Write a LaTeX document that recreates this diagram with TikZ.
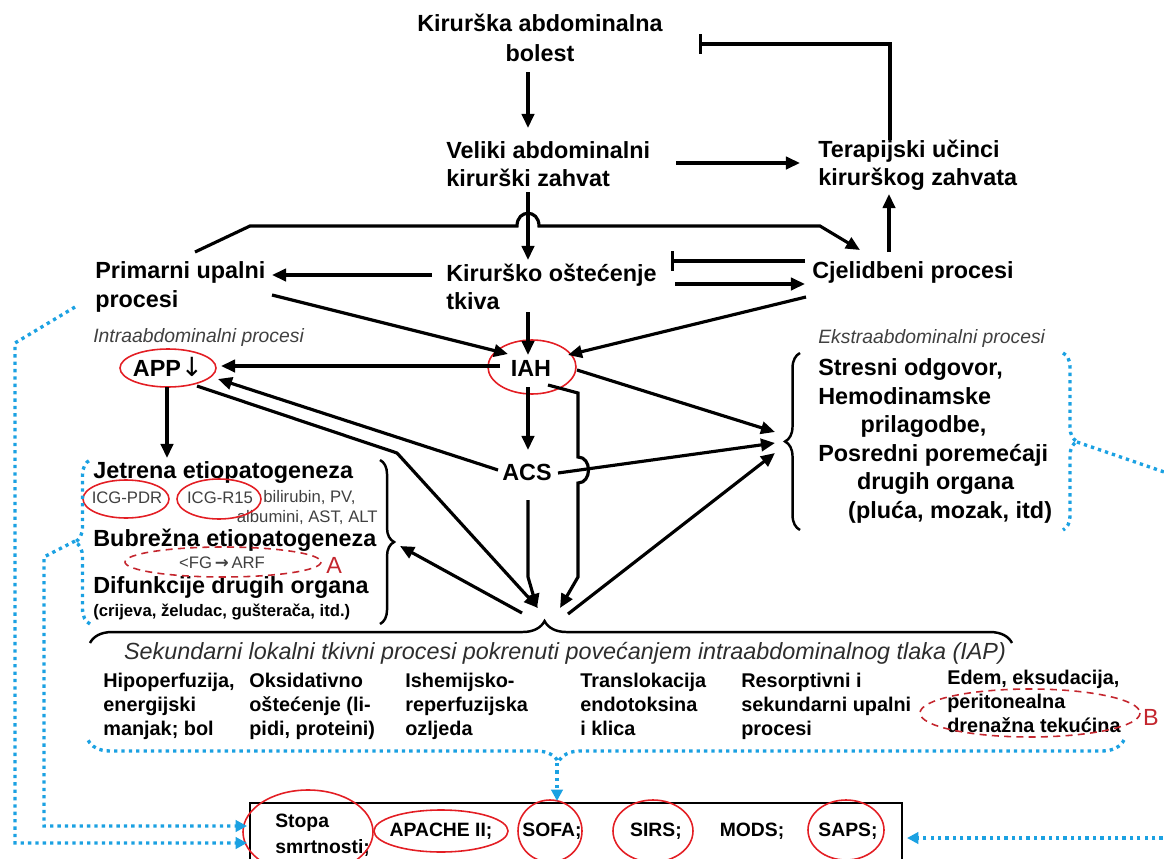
\documentclass[tikz,border=0pt]{standalone}
\usepackage{fontspec}
\setmainfont{Liberation Sans}
\newfontfamily\djv{DejaVu Sans}
\usetikzlibrary{arrows.meta,decorations.pathreplacing}
\definecolor{bluedot}{RGB}{27,161,226}
\definecolor{ellred}{RGB}{227,30,36}
\definecolor{dashred}{RGB}{196,38,46}
\definecolor{txtgray}{RGB}{64,64,64}
\newcommand\fmain{\fontsize{13.3}{16}\selectfont\bfseries}
\newcommand\fcol{\fontsize{11.3}{13.7}\selectfont\bfseries}
\newcommand\fsmall{\fontsize{9.5}{11}\selectfont}
\newcommand\fital{\fontsize{11}{13}\selectfont\itshape}
\begin{document}
\begin{tikzpicture}[x=0.02cm,y=-0.02cm,
  txt/.style={inner sep=0pt, font=\fmain, align=left},
  coltxt/.style={inner sep=0pt, font=\fcol, align=left, anchor=north west},
  small/.style={inner sep=0pt, font=\fsmall, text=txtgray},
  ital/.style={inner sep=0pt, font=\fital, text=txtgray, anchor=west},
  arr/.style={line width=1.8pt, -{Triangle[length=8pt,width=7pt]}},
  inh/.style={line width=1.8pt, -{Bar[width=11pt,line width=1.8pt]}},
  rell/.style={draw=ellred, line width=0.9pt},
  dell/.style={draw=dashred, line width=0.9pt, dash pattern=on 4pt off 3pt},
  bdot/.style={draw=bluedot, line width=1.9pt, dash pattern=on 1.9pt off 2.3pt},
  barr/.style={bdot, -{Triangle[length=6.5pt,width=6.5pt]}},
  brc/.style={decorate, decoration={brace, amplitude=#1}, line width=1.4pt},
]
\useasboundingbox (0,0) rectangle (1164,859);
\clip (0,0) rectangle (1164,859);

% ---------- top nodes ----------
\node[txt, align=center, font=\fontsize{13.3}{17}\selectfont\bfseries] (kab) at (540,38) {Kirurška abdominalna\\bolest};
\node[txt, anchor=west] (vel) at (446,164) {Veliki abdominalni\\kirurški zahvat};
\node[txt, anchor=west] (ter) at (818,165) {Terapijski učinci\\kirurškog zahvata};
\node[txt, anchor=west] (pri) at (95,287) {Primarni upalni\\procesi};
\node[txt, anchor=west] (kir) at (446,287) {Kirurško oštećenje\\tkiva};
\node[txt, anchor=west] (cje) at (812,272) {Cjelidbeni procesi};
\node[ital] (intra) at (93,337) {Intraabdominalni procesi};
\node[ital] (ekstra) at (818,338) {Ekstraabdominalni procesi};

\node[txt] (app) at (168,367) {APP{\djv\fontsize{15}{15}\selectfont\mdseries ↓}};
\node[txt] (iah) at (531,368) {IAH};
\node[txt] (acs) at (527,472) {ACS};
\draw[rell] (168,368) ellipse [x radius=48, y radius=19];
\draw[rell] (532,367) ellipse [x radius=44, y radius=27];

% ---------- right block ----------
\node[txt, anchor=west, font=\fontsize{13.3}{16.2}\selectfont\bfseries] (rb) at (818,441)
 {Stresni odgovor,\\Hemodinamske\\\hspace*{24pt}prilagodbe,\\Posredni poremećaji\\\hspace*{22pt}drugih organa\\\hspace*{17pt}(pluća, mozak, itd)};
\draw[brc=8.5pt] (800,530) -- (800,353);

% ---------- left block ----------
\node[txt, anchor=west] (jet) at (93,473) {Jetrena etiopatogeneza};
\node[small] (icg1) at (127,498) {ICG-PDR};
\node[small] (icg2) at (220,498) {ICG-R15};
\node[small, anchor=west] (bil) at (263,498) {bilirubin, PV,};
\node[small, anchor=east] (alb) at (378,518) {albumini, AST, ALT};
\node[txt, anchor=west] (bub) at (93,540) {Bubrežna etiopatogeneza};
\node[small] (fg) at (222,563) {<FG\,{\djv\bfseries →}\,ARF};
\node[inner sep=0pt, anchor=west, text=dashred, font=\fontsize{13.3}{16}\selectfont] (la) at (326,565) {A};
\node[txt, anchor=west] (dif) at (93,588) {Difunkcije drugih organa};
\node[inner sep=0pt, anchor=west, font=\fontsize{9.5}{11}\selectfont\bfseries] (crij) at (93,612) {(crijeva, želudac, gušterača, itd.)};
\draw[rell] (126,499) ellipse [x radius=43, y radius=19];
\draw[rell] (219,499) ellipse [x radius=42, y radius=20];
\draw[dell] (223,562) ellipse [x radius=98, y radius=15];
\draw[brc=8pt] (380,460) -- (380,624);
\coordinate (lbt) at (396,543);

% ---------- bottom brace and secondary processes ----------
\draw[brc=12.5pt, decoration={aspect=0.493}] (90,643) -- (1012,643);
\coordinate (conv) at (545,620);
\node[inner sep=0pt, font=\fontsize{13.3}{16}\selectfont\itshape, text=txtgray!70!black] (sek) at (565,653)
 {Sekundarni lokalni tkivni procesi pokrenuti povećanjem intraabdominalnog tlaka (IAP)};
\node[coltxt] (c1) at (103,673) {Hipoperfuzija,\\energijski\\manjak; bol};
\node[coltxt] (c2) at (249,673) {Oksidativno\\oštećenje (li-\\pidi, proteini)};
\node[coltxt] (c3) at (405,673) {Ishemijsko-\\reperfuzijska\\ozljeda};
\node[coltxt] (c4) at (580,673) {Translokacija\\endotoksina\\i klica};
\node[coltxt] (c5) at (741,673) {Resorptivni i\\sekundarni upalni\\procesi};
\node[coltxt] (c6) at (947,670) {Edem, eksudacija,\\peritonealna\\drenažna tekućina};
\draw[dell] (1030,713) ellipse [x radius=110, y radius=24];
\node[inner sep=0pt, text=dashred, font=\fontsize{13.3}{16}\selectfont] (lb) at (1151,717) {B};

% ---------- bottom box ----------
\draw[line width=1.2pt] (250,880) -- (250,803) -- (902,803) -- (902,880);
\node[inner sep=0pt, align=left, anchor=west, font=\fontsize{11}{15}\selectfont\bfseries] (stopa) at (275,835) {Stopa\\smrtnosti;};
\node[inner sep=0pt, font=\fontsize{11}{13}\selectfont\bfseries] (apache) at (441,831) {APACHE II;};
\node[inner sep=0pt, font=\fontsize{11}{13}\selectfont\bfseries] (sofa) at (552,831) {SOFA;};
\node[inner sep=0pt, font=\fontsize{11}{13}\selectfont\bfseries] (sirs) at (656,831) {SIRS;};
\node[inner sep=0pt, font=\fontsize{11}{13}\selectfont\bfseries] (mods) at (752,831) {MODS;};
\node[inner sep=0pt, font=\fontsize{11}{13}\selectfont\bfseries] (saps) at (848,831) {SAPS;};
\draw[rell] (308,832) ellipse [x radius=65, y radius=42];
\draw[rell] (441,831) ellipse [x radius=67, y radius=21];
\draw[rell] (550,831) ellipse [x radius=32, y radius=31];
\draw[rell] (653,831) ellipse [x radius=40, y radius=31];
\draw[rell] (846,830) ellipse [x radius=38, y radius=30];

% ---------- black connectors ----------
\draw[arr] (528,72) -- (528,128);                 % kab -> vel
\draw[arr] (676,163) -- (800,163);                % vel -> ter
\draw[inh] (890,140) -- (890,44) -- (699,44);     % ter -| kab
\draw[arr] (889,252) -- (889,194);                % cje -> ter
\draw[arr] (528,192) -- (528,260);                % vel -> kir
\draw[arr] (195,252) -- (250,226) -- (517,226)
   .. controls (517,209) and (539,209) .. (539,226) -- (820,226) -- (860,250); % pri -> cje (hop)
\draw[arr] (432,275) -- (272,275);                % kir -> pri
\draw[inh] (805,261) -- (671,261);                % cje -| kir
\draw[arr] (675,284) -- (805,284);                % kir -> cje
\draw[arr] (272,295) -- (508,354);                % pri -> iah
\draw[arr] (528,312) -- (528,355);                % kir -> iah
\draw[arr] (806,297) -- (568,355);                % cje -> iah
\draw[arr] (500,366) -- (221,366);                % iah -> app
\draw[arr] (167,387) -- (167,458);                % app -> jet
\draw[arr] (498,470) -- (218,379);                % acs -> app
\draw[arr] (197,386) -- (397,453) -- (538,608);   % app -> conv
\draw[arr] (528,387) -- (528,450);                % iah -> acs
\draw[arr] (577,370) -- (775,432);                % iah -> rb
\draw[arr] (558,473) -- (775,443);                % acs -> rb
\draw[arr] (548,385) -- (578,393) -- (578,457)
   .. controls (592,457) and (592,483) .. (578,483) -- (578,577) -- (560,608); % iah -> conv
\draw[arr] (528,500) -- (528,577) -- (537,608);   % acs -> conv
\draw[arr] (568,614) -- (775,453);                % conv -> rb
\draw[arr] (522,613) -- (400,546);                % conv -> lbt

% ---------- blue dotted ----------
\draw[barr] (75,307) -- (15,343) -- (15,843) -- (247,843);
\draw[bdot, decorate, decoration={brace, amplitude=8.5pt}] (90,624) -- (90,460);
\draw[barr] (75,541) -- (44,557) -- (44,826) -- (247,826);
\draw[bdot, decorate, decoration={brace, amplitude=8pt}] (1063,353) -- (1063,530);
\draw[bdot] (1077,442) -- (1170,474);
\draw[bdot, decorate, decoration={brace, amplitude=12.5pt, aspect=0.546}] (1124,740) -- (88,740);
\draw[barr] (557,763) -- (557,801);
\draw[barr] (1170,838) -- (907,838);
\end{tikzpicture}
\end{document}
